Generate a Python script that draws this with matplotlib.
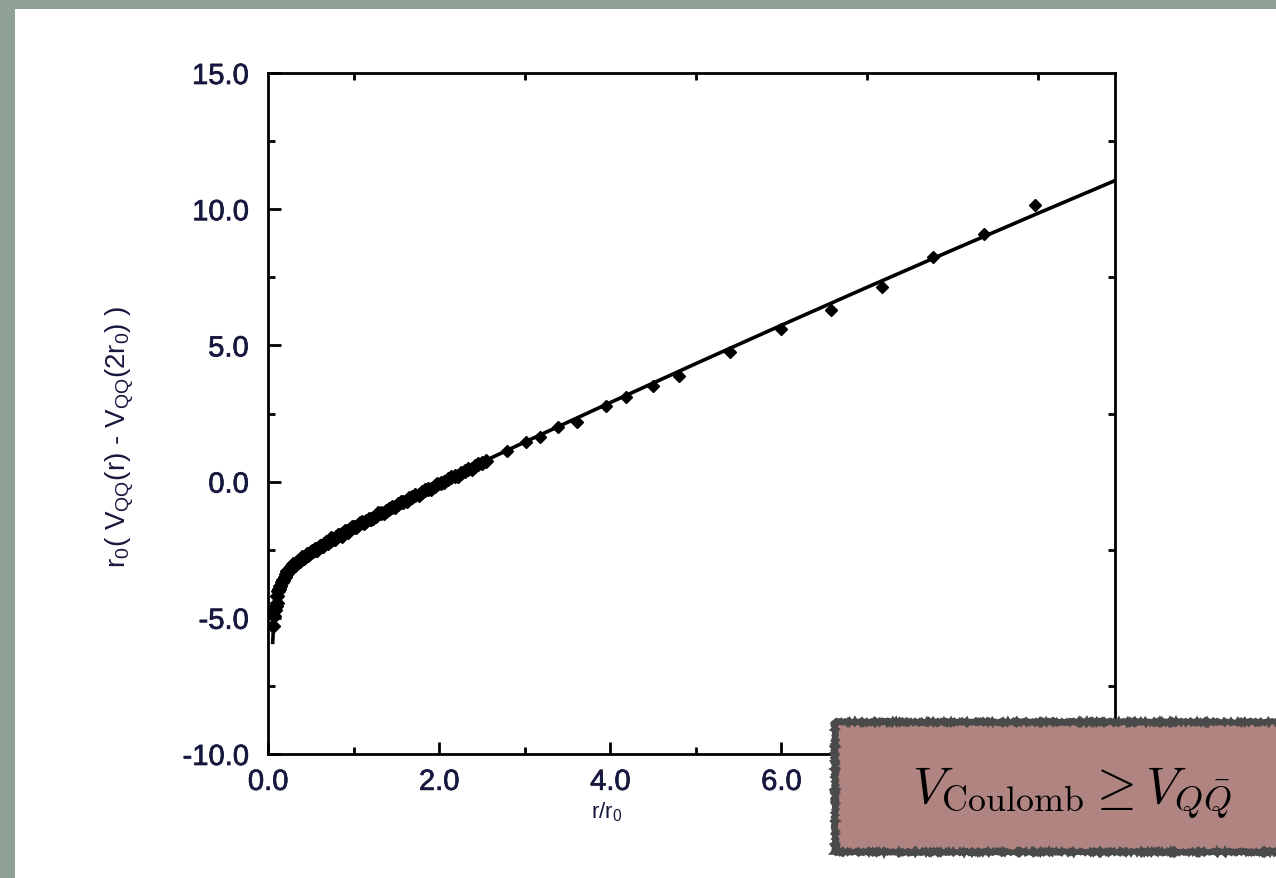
import matplotlib
matplotlib.use("Agg")
import matplotlib.pyplot as plt
import matplotlib.patheffects as pe
from matplotlib.patches import Rectangle
from matplotlib.ticker import MultipleLocator

plt.rcParams['font.family'] = ['Liberation Sans', 'DejaVu Sans']

# fitted potential curve r/r0 -> r0 (V(r) - V(2 r0))
fit_x = [0.055, 0.07, 0.1, 0.15, 0.2, 0.3, 0.4, 0.5, 0.7, 1.0, 1.5, 2.0, 2.5,
         3.0, 4.0, 5.0, 6.0, 7.0, 8.0, 9.0, 9.9]
fit_y = [-5.9, -5.0, -4.3, -3.75, -3.45, -3.08, -2.82, -2.6, -2.2, -1.65, -0.82,
         -0.04, 0.71, 1.45, 2.9, 4.33, 5.74, 7.13, 8.5, 9.85, 11.05]

# lattice points, short distances (dense)
dense_x = [0.06, 0.08, 0.09, 0.11, 0.13, 0.16, 0.18, 0.21, 0.23, 0.26, 0.28, 0.31,
           0.33, 0.36, 0.38, 0.41, 0.44, 0.47, 0.50, 0.53, 0.56, 0.59, 0.62, 0.66,
           0.69, 0.72, 0.76, 0.80, 0.84, 0.88, 0.92, 0.96, 1.00, 1.05, 1.10, 1.15,
           1.20, 1.26, 1.32, 1.38, 1.45, 1.52, 1.58, 1.65, 1.72, 1.80, 1.87, 1.95,
           2.02, 2.10, 2.18, 2.26, 2.34, 2.42, 2.50,
           0.07, 0.10, 0.12, 0.145, 0.17, 0.195, 0.22, 0.245, 0.27, 0.295, 0.32, 0.345,
           0.37, 0.395, 0.425, 0.455, 0.485, 0.515, 0.545, 0.575, 0.605, 0.64, 0.675,
           0.705, 0.74, 0.78, 0.82, 0.86, 0.90, 0.94, 0.98, 1.025, 1.075, 1.125, 1.175,
           1.23, 1.29, 1.35, 1.41, 1.48, 1.55, 1.62, 1.68, 1.76, 1.84, 1.91, 1.98,
           2.06, 2.14, 2.22, 2.30, 2.38, 2.46, 2.55]
dense_y = [-5.3, -4.7, -4.55, -4.2, -3.95, -3.7, -3.6, -3.4, -3.3, -3.2, -3.1, -3.05,
           -2.98, -2.9, -2.85, -2.8, -2.72, -2.68, -2.6, -2.55, -2.5, -2.42, -2.36, -2.3,
           -2.22, -2.17, -2.1, -2.02, -1.97, -1.9, -1.82, -1.75, -1.68, -1.6, -1.5, -1.45,
           -1.36, -1.25, -1.15, -1.08, -0.95, -0.82, -0.74, -0.62, -0.5, -0.4, -0.28, -0.15,
           -0.04, 0.1, 0.2, 0.32, 0.45, 0.58, 0.70,
           -4.95, -4.45, -4.0, -3.85, -3.6, -3.5, -3.3, -3.28, -3.12, -3.02, -3.06, -2.92,
           -2.92, -2.78, -2.8, -2.66, -2.67, -2.55, -2.47, -2.5, -2.36, -2.35, -2.22,
           -2.24, -2.08, -2.1, -1.96, -1.98, -1.82, -1.84, -1.68, -1.68, -1.52, -1.52, -1.36,
           -1.35, -1.16, -1.15, -1.0, -0.93, -0.76, -0.72, -0.55, -0.5, -0.32, -0.26, -0.08,
           -0.02, 0.16, 0.22, 0.4, 0.47, 0.66, 0.74]

# lattice points, larger distances
far_x = [2.79, 3.01, 3.18, 3.39, 3.61, 3.95, 4.19, 4.50, 4.80, 5.40, 6.00, 6.58,
         7.18, 7.77, 8.37, 8.96]
far_y = [1.13, 1.44, 1.63, 1.99, 2.20, 2.76, 3.09, 3.50, 3.89, 4.75, 5.60, 6.31,
         7.13, 8.23, 9.09, 10.15]

x_ticks = [0.0, 2.0, 4.0, 6.0, 8.0]
x_labels = ['0.0', '2.0', '4.0', '6.0', '']
y_ticks = [-10.0, -5.0, 0.0, 5.0, 10.0, 15.0]

W, H = 1276, 879
bg = '#8fa194'
tick_col = '#17183d'
thick = [pe.withStroke(linewidth=0.5, foreground=tick_col)]

fig = plt.figure(figsize=(W / 100, H / 100), dpi=100, facecolor=bg)
fig.patches.append(Rectangle((15 / W, 0), 1, 1 - 10 / H, transform=fig.transFigure,
                             facecolor='white', edgecolor='none', zorder=-10))

ax = fig.add_axes([268 / W, (H - 755) / H, 847 / W, 681 / H])
ax.plot(fit_x, fit_y, color='black', lw=2.6, zorder=3)
ax.plot(dense_x, dense_y, 'D', color='black', ms=7, zorder=4)
ax.plot(far_x, far_y, 'D', color='black', ms=6.5, zorder=4)

ax.set_xlim(0, 9.9)
ax.set_ylim(-10, 15)
ax.set_xticks(x_ticks)
ax.set_xticklabels(x_labels)
ax.set_yticks(y_ticks)
ax.set_yticklabels([f'{v:.1f}' for v in y_ticks])
ax.xaxis.set_minor_locator(MultipleLocator(1.0))
ax.yaxis.set_minor_locator(MultipleLocator(2.5))

for s in ax.spines.values():
    s.set_linewidth(2.0)
ax.tick_params(which='both', direction='in', width=2.0, colors='black',
               labelcolor=tick_col, labelsize=21)
ax.tick_params(axis='y', which='major', length=9, pad=14, left=True, right=False)
ax.tick_params(axis='y', which='minor', length=5, left=True, right=True)
ax.tick_params(axis='x', which='major', length=9, pad=10, top=False)
ax.tick_params(axis='x', which='minor', length=5, top=True)
for lbl in ax.get_xticklabels() + ax.get_yticklabels():
    lbl.set_path_effects(thick)

ax.set_xlabel(r'r/r$_\mathregular{0}$', fontsize=16, color=tick_col)
ax.xaxis.set_label_coords(0.40, -0.066)
ax.set_ylabel(r'r$_\mathregular{0}$( V$_\mathregular{QQ}$(r) - V$_\mathregular{QQ}$(2r$_\mathregular{0}$) )',
              fontsize=20, color=tick_col)
ax.yaxis.set_label_coords(-0.155, 0.467)

# caption box
box = Rectangle((835 / W, (H - 853) / H), 0.5, 130 / H, transform=fig.transFigure,
                facecolor='#b08581', edgecolor='#4a4a4a', lw=4, zorder=20,
                clip_on=False)
box.set_sketch_params(scale=1.0, length=2.5, randomness=2)
ax.add_patch(box)
ax.text(1072 / W, (H - 803) / H, r'$V_{\rm Coulomb} \geq V_{Q\bar{Q}}$',
        transform=fig.transFigure, ha='center', va='baseline', fontsize=37,
        math_fontfamily='cm', color='black', zorder=21)

fig.savefig('out.png', dpi=100, facecolor=bg)
